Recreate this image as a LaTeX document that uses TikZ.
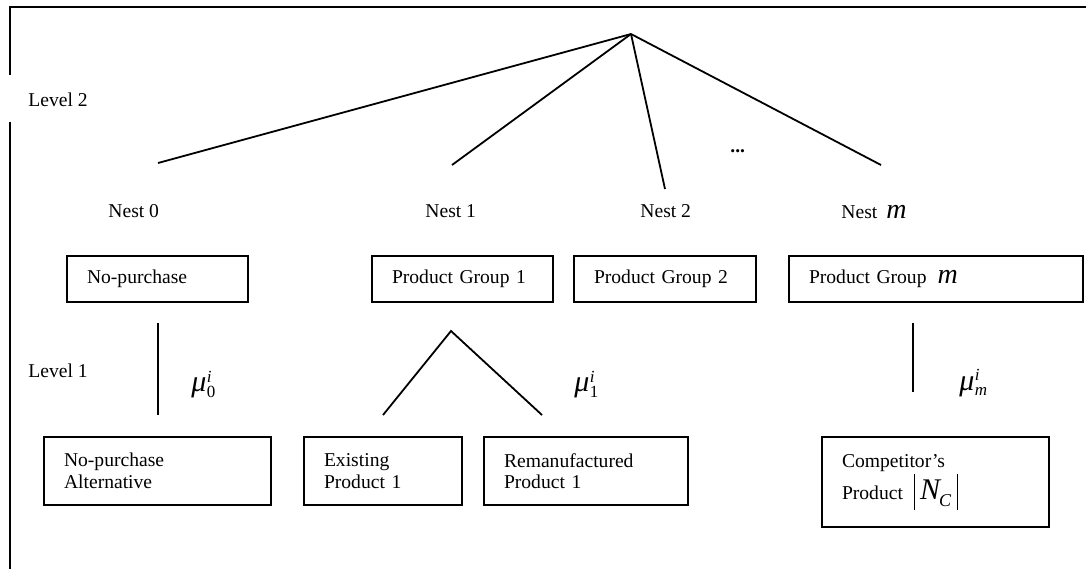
\documentclass[tikz,border=0pt]{standalone}
\usepackage{fontspec}
\setmainfont{Liberation Serif}
\newcommand\mvar[1]{{\fontsize{14}{14}\selectfont\itshape #1}}
\newcommand\smallfnt{\fontsize{8.5}{8.5}\selectfont}
\newcommand\mumark[2]{{\fontsize{15}{15}\selectfont\itshape μ}\kern0.2pt\makebox[0pt][l]{\raisebox{4.6pt}{\smallfnt\itshape #2}}\raisebox{-2.9pt}{\smallfnt #1}}
\newcommand\vbar{\rule[-5pt]{0.6pt}{18pt}}
\begin{document}
\begin{tikzpicture}[x=0.5pt,y=-0.5pt,
  lbl/.style={anchor=base west, inner sep=0pt, font=\fontsize{9.8}{10.8}\selectfont},
  box/.style 2 args={draw, line width=0.9pt, anchor=north west, inner xsep=10pt, inner ysep=0pt, outer sep=0pt, text width=#1, minimum height=#2, align=left, font=\fontsize{9.8}{10.8}\selectfont},
  conn/.style={line width=0.9pt},
  frame/.style={line width=1pt}]
\useasboundingbox (0,0) rectangle (1086,569);
% frame
\coordinate (ftr) at (1086,7);
\coordinate (ftl) at (10,7);
\coordinate (fga) at (10,75);
\coordinate (fgb) at (10,122);
\coordinate (fbl) at (10,569);
\draw[frame] (ftr) -- (ftl) -- (fga);
\draw[frame] (fgb) -- (fbl);
% level labels
\node[lbl] (lev2) at (28,106) {Level 2};
\node[lbl] (lev1) at (28,377) {Level 1};
% top tree
\coordinate (apex) at (631,34);
\coordinate (e0) at (158,163);
\coordinate (e1) at (452,165);
\coordinate (e2) at (665,189);
\coordinate (em) at (881,165);
\draw[conn] (apex) -- (e0);
\draw[conn] (apex) -- (e1);
\draw[conn] (apex) -- (e2);
\draw[conn] (apex) -- (em);
\node[lbl] (dots) at (730,152) {\textbf{...}};
% nest labels
\node[lbl] (nest0) at (108,217) {Nest 0};
\node[lbl] (nest1) at (425,217) {Nest 1};
\node[lbl] (nest2) at (640,217) {Nest 2};
\node[lbl] (nestm) at (841,218) {Nest\hspace{4.5pt}\mvar{m}};
% product group boxes
\node[box={70.5pt}{23pt}] (np) at (67,256) {No-purchase};
\node[box={70.5pt}{23pt}] (pg1) at (372,256) {Product Group 1};
\node[box={71pt}{23pt}] (pg2) at (574,256) {Product Group 2};
\node[box={127pt}{23pt}] (pgm) at (789,256) {Product Group\hspace{5.5pt}\mvar{m}};
% level 1 connectors
\coordinate (v0a) at (158,323);
\coordinate (v0b) at (158,415);
\draw[conn] (v0a) -- (v0b);
\coordinate (t1) at (451,331);
\coordinate (t1l) at (383,415);
\coordinate (t1r) at (542,415);
\draw[conn] (t1l) -- (t1) -- (t1r);
\coordinate (vma) at (913,323);
\coordinate (vmb) at (913,392);
\draw[conn] (vma) -- (vmb);
\node[lbl] (mu0) at (191,391.5) {\mumark{0}{i}};
\node[lbl] (mu1) at (574,391.5) {\mumark{1}{i}};
\node[lbl] (mum) at (959,390) {\mumark{\itshape m}{i}};
% bottom boxes
\node[box={93.5pt}{34pt}] (npa) at (44,437) {No-purchase\\Alternative};
\node[box={59pt}{34pt}] (ex) at (304,437) {Existing\\Product 1};
\node[box={82pt}{34pt}] (rm) at (484,437) {Remanufactured\\Product 1};
\node[box={93.5pt}{45pt}] (cp) at (822,437) {Competitor’s\\Product\hspace{5.5pt}\vbar\hspace{2.5pt}{\fontsize{15}{15}\selectfont\itshape N}\kern-0.5pt\raisebox{-3.5pt}{\fontsize{9}{9}\selectfont\itshape C}\hspace{3pt}\vbar};
\end{tikzpicture}
\end{document}
